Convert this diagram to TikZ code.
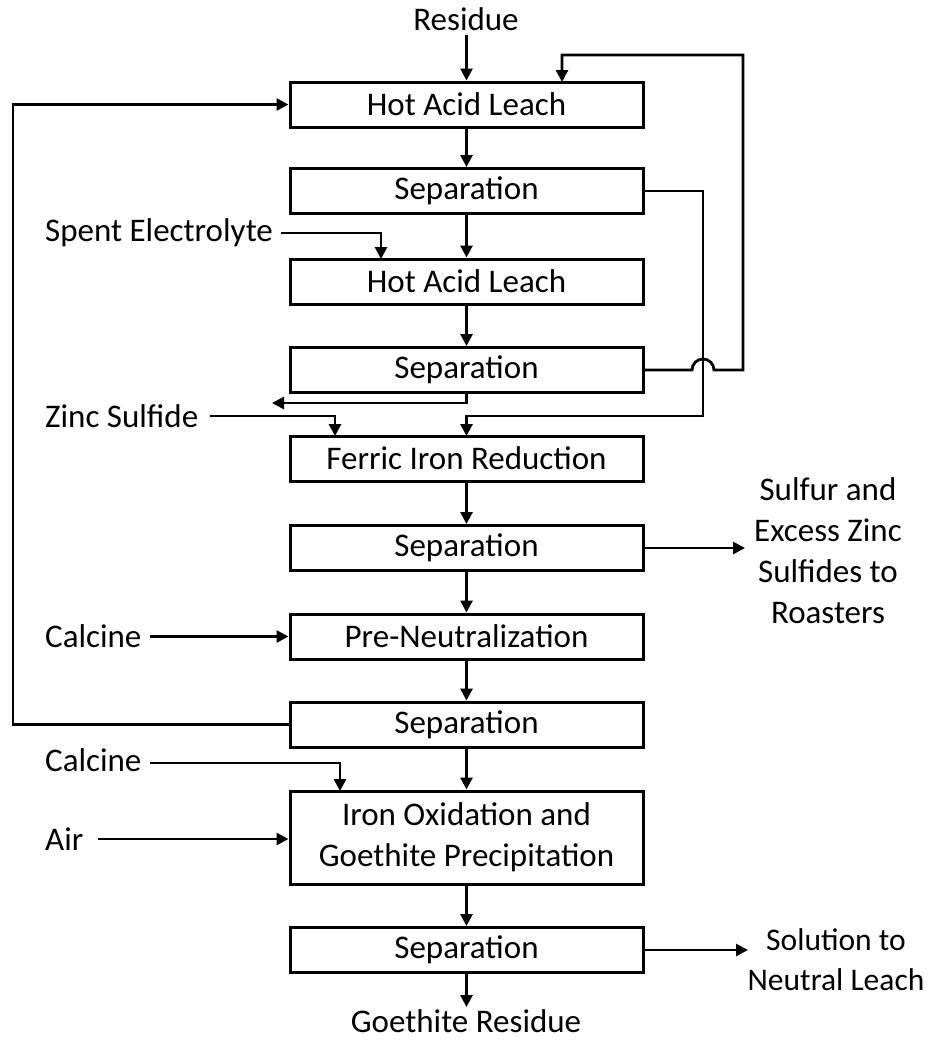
\documentclass[tikz,border=0pt]{standalone}
\usepackage{fontspec}
\setmainfont{Carlito}
\usetikzlibrary{arrows.meta}
\begin{document}
\begin{tikzpicture}[x=1pt,y=-1pt,
  box/.style={draw,line width=3pt,minimum width=353pt,minimum height=45pt,inner sep=0pt,font=\fontsize{33}{39}\selectfont},
  lbl/.style={inner sep=0pt,font=\fontsize{33}{39}\selectfont},
  flow/.style={line width=2.8pt,-{Triangle[length=12pt,width=12pt]}}]
\useasboundingbox (0,0) rectangle (929,1042);
\node[box] (hal1) at (466.5,104.5) {Hot Acid Leach};
\node[box] (sep1) at (466.5,191) {Separation};
\node[box] (hal2) at (466.5,281.5) {Hot Acid Leach};
\node[box] (sep2) at (466.5,370) {Separation};
\node[box] (fir) at (466.5,458.5) {Ferric Iron Reduction};
\node[box] (sep3) at (466.5,548) {Separation};
\node[box] (pre) at (466.5,636.5) {Pre-Neutralization};
\node[box] (sep4) at (466.5,724.5) {Separation};
\node[box,minimum height=93pt,align=center] (iox) at (466.5,837.5) {Iron Oxidation and\\[2pt]Goethite Precipitation};
\node[box] (sep5) at (466.5,950) {Separation};

\node[lbl] (res) at (466,19) {Residue};
\node[lbl,anchor=west] (spent) at (45,233) {Spent Electrolyte};
\node[lbl,anchor=west] (zinc) at (45,416) {Zinc Sulfide};
\node[lbl,anchor=west] (calc1) at (45,636) {Calcine};
\node[lbl,anchor=west] (calc2) at (45,760) {Calcine};
\node[lbl,anchor=west] (air) at (45,839) {Air};
\node[lbl,align=center] (sulf) at (828,551) {Sulfur and\\[2pt]Excess Zinc\\[2pt]Sulfides to\\[2pt]Roasters};
\node[lbl,align=center,font=\fontsize{31.5}{38}\selectfont] (sol) at (836,960) {Solution to\\[2pt]Neutral Leach};
\node[lbl] (goe) at (466,1021) {Goethite Residue};

% main column
\coordinate (resout) at (466.5,35);
\draw[flow] (resout) -- (hal1.north);
\draw[flow] (hal1) -- (sep1);
\draw[flow] (sep1) -- (hal2);
\draw[flow] (hal2) -- (sep2);
\draw[flow] (fir) -- (sep3);
\draw[flow] (sep3) -- (pre);
\draw[flow] (pre) -- (sep4);
\draw[flow] (sep4) -- (iox);
\draw[flow] (iox) -- (sep5);
\coordinate (goein) at (466.5,1007);
\draw[flow] (sep5.south) -- (goein);

% side inputs
\coordinate (spentin) at (381,259);
\draw[flow] ([xshift=8pt]spent.east) -| (spentin);
\coordinate (zincin) at (335,436);
\draw[flow] ([xshift=12pt]zinc.east) -| (zincin);
\draw[flow] (150,636.5) -- (pre.west);
\coordinate (calcin) at (340,791);
\draw[flow] (150,763) -| (calcin);
\draw[flow] (98,839) -- (iox.west |- 0,839);

% outputs
\draw[flow] (sep3.east) -- (745,548);
\draw[flow] (sep5.east) -- (748,950);
\coordinate (sep2out) at (272,403);
\draw[flow] (sep2.south) -- (466.5,403) -- (sep2out);

% recycle from sep1 to ferric
\coordinate (fin) at (466.5,436);
\draw[flow] (sep1.east) -- (703,191) -- (703,416) -- (466.5,416) -- (fin);
% recycle from sep2 to hal1 with hop
\coordinate (hin) at (562,82);
\draw[flow] (sep2.east) -- (692,370) arc[start angle=180,end angle=360,radius=11] -- (743,370) -- (743,55) -- (562,55) -- (hin);
% recycle from sep4 to hal1
\draw[flow] (sep4.west) -- (13,724.5) -- (13,104.5) -- (hal1.west);
\end{tikzpicture}
\end{document}
